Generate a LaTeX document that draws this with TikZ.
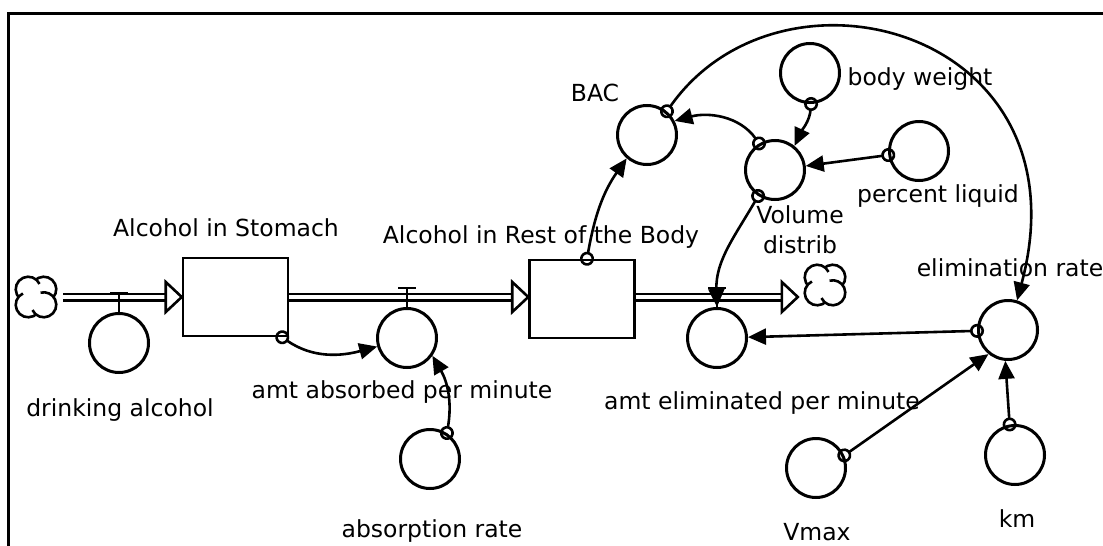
\documentclass[tikz,border=0pt]{standalone}
\usepackage{fontspec}
\setmainfont{DejaVu Sans}
\usepackage{tikz}
\usetikzlibrary{positioning}
\usetikzlibrary{arrows.meta}

\tikzset{
  stock/.style={draw, line width=2.5pt, minimum width=105pt, minimum height=78pt, inner sep=0pt},
  aux/.style={circle, draw, line width=3pt, minimum size=59pt, inner sep=0pt},
  lbl/.style={font=\fontsize{23.5}{30}\selectfont, inner sep=0pt, align=center},
  pipe/.style={double, line width=2.6pt, double distance=3.8pt},
  pipehead/.style={draw, line width=2.6pt, fill=white},
  valvestem/.style={line width=2.8pt},
  info/.style={line width=2.6pt, shorten <=-7pt,
    {Circle[open,length=14pt,width=14pt]}-{Triangle[length=18pt,width=16pt]}},
  cloudy/.style={circle, minimum size=54pt, inner sep=0pt,
    path picture={
      \foreach \a in {45,135,225,315}{
        \path ([shift={(\a:11pt)}]path picture bounding box.center) coordinate (lobe);
        \fill[white] (lobe) circle[radius=12.5pt];
        \draw[line width=2.6pt] (lobe) ++(\a-110:12.5pt) arc[start angle=\a-110, end angle=\a+150, radius=12.5pt];
      }}}
}

\begin{document}
\begin{tikzpicture}[x=1pt, y=-1pt]
\useasboundingbox (0,0) rectangle (1103,546);
\draw[line width=3.5pt] (8.5,546) -- (8.5,13.5) -- (1103,13.5);

% stocks and clouds
\node[cloudy] (cloudL) at (36,297) {};
\node[stock] (stomach) at (235.5,297) {};
\node[stock] (body) at (582,299) {};
\node[cloudy] (cloudR) at (825,285) {};

% flow rates
\node[aux] (drink) at (119,343) {};
\node[aux] (absorb) at (407,338) {};
\node[aux] (elimAmt) at (717,338) {};

% auxiliaries
\node[aux] (absRate) at (430,459) {};
\node[aux] (bac) at (647,135) {};
\node[aux] (weight) at (810,73) {};
\node[aux] (vol) at (775,170) {};
\node[aux] (pct) at (919,151) {};
\node[aux] (elimR) at (1008,330) {};
\node[aux] (vmax) at (816,468) {};
\node[aux] (km) at (1015,455) {};

% labels
\node[lbl, anchor=base] (stomachLbl) at (226,236) {Alcohol in Stomach};
\node[lbl, anchor=base] (bodyLbl) at (541,243) {Alcohol in Rest of the Body};
\node[lbl, anchor=base] (drinkLbl) at (120,416) {drinking alcohol};
\node[lbl, anchor=base] (absorbLbl) at (402,398) {amt absorbed per minute};
\node[lbl, anchor=base] (absRateLbl) at (432,537) {absorption rate};
\node[lbl, anchor=base] (elimAmtLbl) at (762,409) {amt eliminated per minute};
\node[lbl, anchor=base] (bacLbl) at (595,101) {BAC};
\node[lbl, anchor=base] (weightLbl) at (920,85) {body weight};
\node[lbl, anchor=north] (volLbl) at (800,205) {Volume\\distrib};
\node[lbl, anchor=base] (pctLbl) at (938,202) {percent liquid};
\node[lbl, anchor=base] (elimRLbl) at (1010,276) {elimination rate};
\node[lbl, anchor=base] (vmaxLbl) at (817,540) {Vmax};
\node[lbl, anchor=base] (kmLbl) at (1017,527) {km};

% pipes
\draw[pipe] (cloudL.east) -- ([xshift=-16pt]cloudL.east -| stomach.west);
\draw[pipehead] (cloudL.east -| stomach.west) -- ++(-16,-15) -- ++(0,30) -- cycle;
\draw[pipe] (stomach.east) -- ([xshift=-16pt]stomach.east -| body.west);
\draw[pipehead] (stomach.east -| body.west) -- ++(-16,-15) -- ++(0,30) -- cycle;
\draw[pipe] (stomach.east -| body.east) -- ([xshift=-16pt]stomach.east -| cloudR.west);
\draw[pipehead] (stomach.east -| cloudR.west) -- ++(-16,-15) -- ++(0,30) -- cycle;

% valves
\draw[valvestem] (drink.north) -- ++(0,-19) coordinate (v1) ++(-9,0) -- ++(18,0);
\draw[valvestem] (absorb.north) -- ++(0,-19) coordinate (v2) ++(-9,0) -- ++(18,0);
\draw[valvestem] (elimAmt.north) -- ++(0,-19) coordinate (v3) ++(-9,0) -- ++(18,0);

% links
\draw[info] ([xshift=-7pt]stomach.south east) to[out=-35,in=195] (absorb.196);
\draw[info] (absRate.57) to[out=80,in=-60] (absorb.-35);
\draw[info] ([xshift=5pt]body.north) to[out=80,in=-125] (bac.229);
\draw[info] (vol.121) to[out=125,in=15] (bac.27);
\draw[info] (weight.-88) to[out=-95,in=65] (vol.51);
\draw[info] (pct) -- (vol);
\draw[info] (vol.237) to[out=-120,in=92] (elimAmt.north);
\draw[info] (bac.50) .. controls +(55:200pt) and +(75:280pt) .. (elimR.73);
\draw[info] (elimR) -- (elimAmt);
\draw[info] (vmax.24) -- (elimR.231);
\draw[info] (km.100) -- (elimR.265);
\end{tikzpicture}
\end{document}
